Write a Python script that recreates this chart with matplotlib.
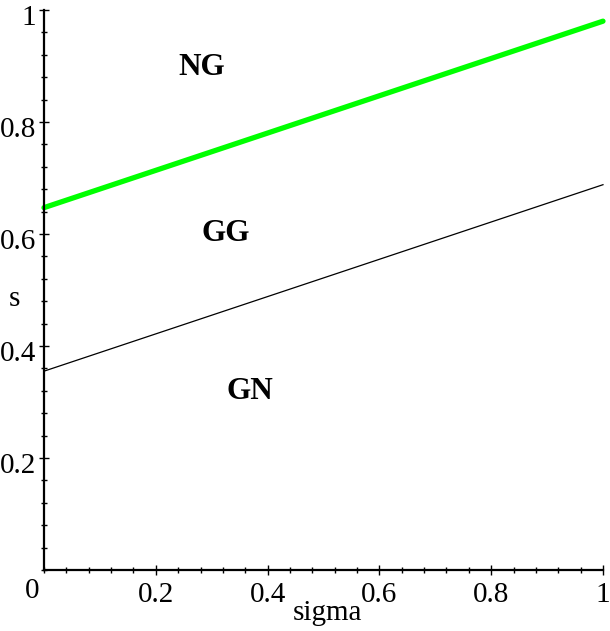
import numpy as np
import matplotlib
matplotlib.use("Agg")
import matplotlib.pyplot as plt
import matplotlib.transforms as mtransforms
from matplotlib.ticker import MultipleLocator

plt.rcParams['font.family'] = ['Liberation Serif', 'DejaVu Serif']

# boundary lines
sigma = [0.0, 1.0]
upper_s = [0.647, 0.980]   # green, NG / GG boundary
lower_s = [0.355, 0.688]   # black, GG / GN boundary

regions = ['NG', 'GG', 'GN']
region_x = [0.282, 0.326, 0.368]
region_y = [0.897, 0.600, 0.318]

xticks = [0.2, 0.4, 0.6, 0.8, 1.0]
xticklabels = ['0.2', '0.4', '0.6', '0.8', '1']
yticks = [0.2, 0.4, 0.6, 0.8, 1.0]
yticklabels = ['0.2', '0.4', '0.6', '0.8', '1']

fs = 21

fig = plt.figure(figsize=(6.10, 6.31), dpi=100)
ax = fig.add_axes([0.0721, 0.0967, 0.9164, 0.8875])

ax.plot(sigma, upper_s, color='#00ff00', lw=3.8, solid_capstyle='round', clip_on=False)
ax.plot(sigma, lower_s, color='black', lw=0.9, clip_on=False)

for name, x, y in zip(regions, region_x, region_y):
    ax.text(x, y, name, fontsize=22.5, fontweight='bold', ha='center', va='center')

ax.set_xlim(0, 1)
ax.set_ylim(0, 1)
for side in ['top', 'right']:
    ax.spines[side].set_visible(False)
for side in ['left', 'bottom']:
    ax.spines[side].set_linewidth(1.6)

ax.set_xticks(xticks)
ax.set_xticklabels(xticklabels)
ax.set_yticks(yticks)
ax.set_yticklabels(yticklabels)
ax.xaxis.set_minor_locator(MultipleLocator(0.04))
ax.yaxis.set_minor_locator(MultipleLocator(0.04))
ax.tick_params(which='major', direction='inout', length=7, width=1, labelsize=fs)
ax.tick_params(axis='x', which='major', pad=5)
ax.tick_params(axis='y', which='major', pad=2)
ax.tick_params(which='minor', direction='inout', length=4, width=1)

# y labels sit a little below their ticks, as in the original
shift = mtransforms.ScaledTranslation(0, -5 / 100, fig.dpi_scale_trans)
for lab in ax.get_yticklabels():
    lab.set_transform(lab.get_transform() + shift)

# origin label sits left of the axis
ax.text(-0.022, -0.037, '0', fontsize=fs, ha='center', va='center', clip_on=False)

ax.text(0.508, -0.077, 'sigma', fontsize=fs, ha='center', va='center', clip_on=False)
ax.text(-0.052, 0.483, 's', fontsize=fs, ha='center', va='center', clip_on=False)

fig.savefig('out.png', dpi=100)
